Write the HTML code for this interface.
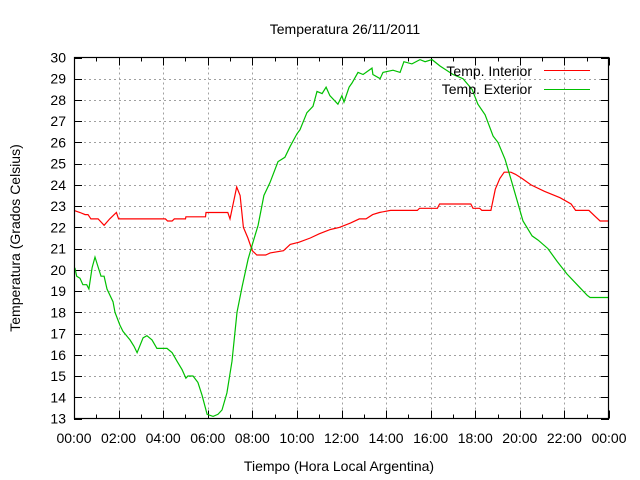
<!DOCTYPE html>
<html><head><meta charset="utf-8"><style>
body{margin:0;background:#fff}
svg{display:block;font-family:"Liberation Sans",sans-serif}
</style></head><body>
<svg id="c" width="640" height="480" xmlns="http://www.w3.org/2000/svg"></svg>
<script>
const xTickLabels=["00:00","02:00","04:00","06:00","08:00","10:00","12:00","14:00","16:00","18:00","20:00","22:00","00:00"];
const yTicks=[13,14,15,16,17,18,19,20,21,22,23,24,25,26,27,28,29,30];
const interiorHours=[0,0.27,0.5,0.63,0.76,1.08,1.35,1.6,1.9,2.0,4.1,4.2,4.4,4.5,5.0,5.02,5.9,5.92,6.9,7.0,7.3,7.45,7.6,7.8,8.0,8.2,8.6,8.8,9.4,9.7,10.1,10.6,11.0,11.5,11.9,12.4,12.8,13.1,13.4,13.7,14.2,15.4,15.5,16.3,16.4,17.8,17.9,18.2,18.3,18.7,18.9,19.1,19.3,19.6,19.8,20.1,20.5,21.1,21.8,22.3,22.5,23.1,23.4,23.6,24];
const interiorTemp=[22.8,22.7,22.6,22.6,22.4,22.4,22.1,22.4,22.7,22.4,22.4,22.3,22.3,22.4,22.4,22.5,22.5,22.7,22.7,22.4,23.9,23.5,22.0,21.5,20.9,20.7,20.7,20.8,20.9,21.2,21.3,21.5,21.7,21.9,22.0,22.2,22.4,22.4,22.6,22.7,22.8,22.8,22.9,22.9,23.1,23.1,22.9,22.9,22.8,22.8,23.8,24.3,24.6,24.6,24.5,24.3,24.0,23.7,23.4,23.1,22.8,22.8,22.5,22.3,22.3];
const exteriorHours=[0.04,0.12,0.27,0.4,0.57,0.67,0.81,0.94,1.03,1.21,1.35,1.48,1.75,1.84,2.06,2.2,2.51,2.69,2.83,3.1,3.27,3.5,3.72,4.17,4.4,4.62,4.85,5.02,5.11,5.34,5.56,5.74,5.97,6.24,6.46,6.64,6.86,7.09,7.31,7.54,7.81,8.03,8.26,8.52,8.79,9.15,9.46,9.69,10.0,10.14,10.45,10.72,10.9,11.13,11.31,11.48,11.84,12.02,12.11,12.34,12.47,12.74,12.97,13.37,13.41,13.73,13.86,14.31,14.63,14.8,15.16,15.52,15.75,16.06,16.42,17.0,17.45,17.86,18.12,18.44,18.8,19.02,19.34,19.65,19.87,20.14,20.55,20.82,21.26,21.67,22.12,22.57,23.02,23.15,24];
const exteriorTemp=[20.1,19.7,19.6,19.3,19.3,19.1,20.1,20.6,20.3,19.7,19.7,19.1,18.5,18.0,17.4,17.1,16.7,16.4,16.1,16.8,16.9,16.7,16.3,16.3,16.1,15.7,15.3,14.9,15.0,15.0,14.7,14.1,13.2,13.1,13.2,13.4,14.2,15.7,18.0,19.2,20.5,21.3,22.1,23.5,24.1,25.1,25.3,25.8,26.4,26.6,27.4,27.7,28.4,28.3,28.6,28.2,27.8,28.2,27.9,28.6,28.8,29.3,29.2,29.5,29.2,29.0,29.3,29.4,29.3,29.8,29.7,29.9,29.8,29.9,29.6,29.2,29.0,28.5,27.8,27.3,26.3,26.0,25.2,24.1,23.3,22.3,21.6,21.4,21.0,20.4,19.8,19.3,18.8,18.7,18.7];

const L=74,R=609,T=57.5,B=418.5,yMin=13,yMax=30,xMax=24;
const xs=h=>L+(R-L)*h/xMax;
const ys=v=>B-(B-T)*(v-yMin)/(yMax-yMin);
const svg=document.getElementById('c');
const NS='http://www.w3.org/2000/svg';
function mk(tag,attrs,parent){const e=document.createElementNS(NS,tag);for(const k in attrs)e.setAttribute(k,attrs[k]);(parent||svg).appendChild(e);return e;}

// grid
const grid=mk('g',{stroke:'#a0a0a0','stroke-width':1,'stroke-dasharray':'2,3'});


yTicks.forEach(v=>{if(v>yMin&&v<yMax){const y=Math.round(ys(v))+0.5;mk('line',{x1:L,x2:R,y1:y,y2:y},grid);}});
xTickLabels.forEach((s,i)=>{const h=i*2;if(h>0&&h<xMax){const x=Math.round(xs(h))+0.5;mk('line',{x1:x,x2:x,y1:T,y2:B},grid);}});

// ticks
const tk=mk('g',{stroke:'#000','stroke-width':1});


yTicks.forEach(v=>{const y=Math.round(ys(v))+0.5;mk('line',{x1:L,x2:L+8,y1:y,y2:y},tk);mk('line',{x1:R-8,x2:R,y1:y,y2:y},tk);});
for(let h=0;h<=xMax;h++){const x=Math.round(xs(h))+0.5;const len=h%2?4:8;mk('line',{x1:x,x2:x,y1:B,y2:B-len},tk);mk('line',{x1:x,x2:x,y1:T,y2:T+len},tk);}

// labels
const yl=mk('g',{'font-size':14,'text-anchor':'end',fill:'#000'});


yTicks.forEach(v=>{const t=mk('text',{x:66,y:ys(v)+5},yl);t.textContent=v;});
const xl=mk('g',{'font-size':14,'text-anchor':'middle',fill:'#000'});


xTickLabels.forEach((s,i)=>{const t=mk('text',{x:xs(i*2),y:443},xl);t.textContent=s;});

// series
function series(hs,ts,color,name){const p=hs.map((h,i)=>xs(h).toFixed(1)+','+ys(ts[i]).toFixed(1)).join(' ');
const e=mk('polyline',{points:p,fill:'none',stroke:color,'stroke-width':1.2});

}
series(interiorHours,interiorTemp,'#ff0000','interior-line');
series(exteriorHours,exteriorTemp,'#00c000','exterior-line');

// frame
const fr=mk('rect',{x:L+0.5,y:T,width:R-L-1,height:B-T,fill:'none',stroke:'#000','stroke-width':1.2});


</script>
<svg width="640" height="480" style="position:absolute;left:0;top:0">
<text x="345" y="34" font-size="14" text-anchor="middle">Temperatura 26/11/2011</text>
<text x="339" y="471" font-size="14" text-anchor="middle">Tiempo (Hora Local Argentina)</text>
<text transform="translate(20,238) rotate(-90)" font-size="14" text-anchor="middle">Temperatura (Grados Celsius)</text>
<g>
<text x="532" y="76" font-size="14" text-anchor="end">Temp. Interior</text>
<line x1="544" x2="590" y1="70.5" y2="70.5" stroke="#ff0000"/>
<text x="532" y="94" font-size="14" text-anchor="end">Temp. Exterior</text>
<line x1="544" x2="590" y1="89.5" y2="89.5" stroke="#00c000"/>
</g>
</svg>
</body></html>
